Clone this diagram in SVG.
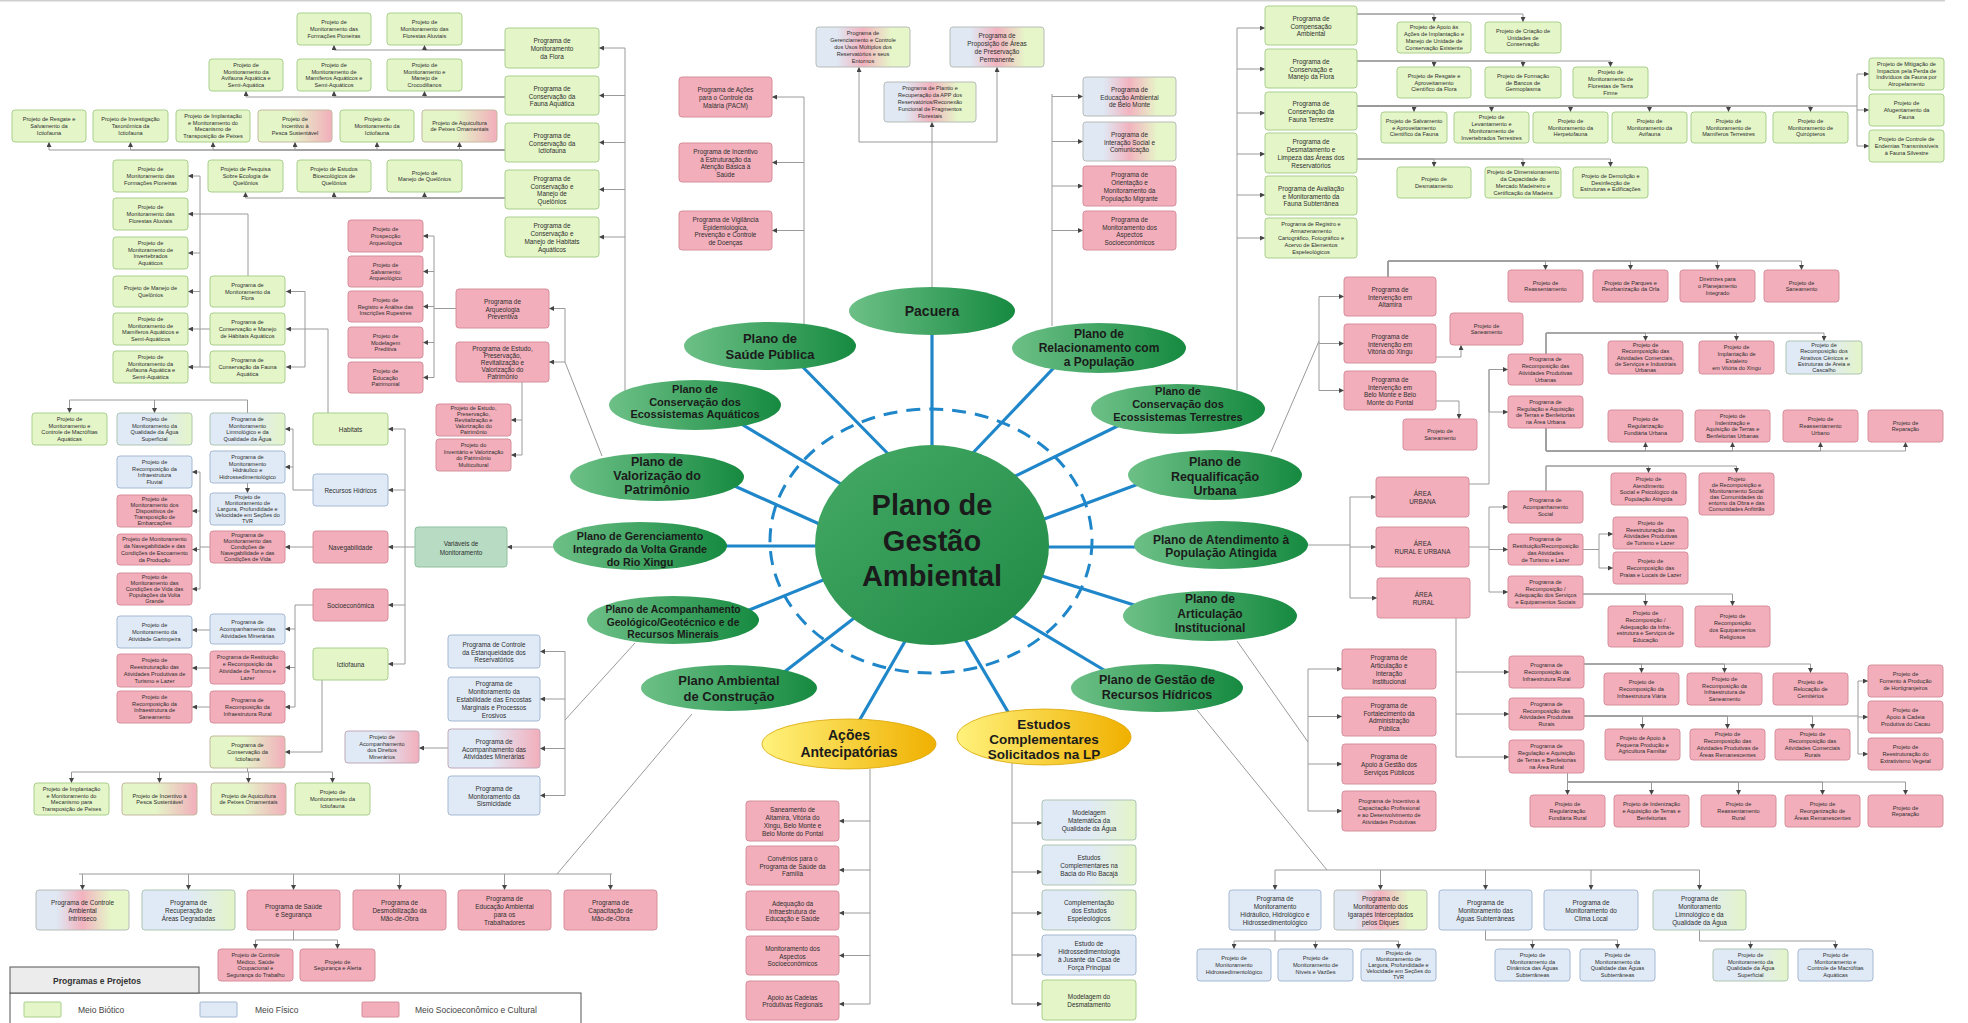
<svg xmlns="http://www.w3.org/2000/svg" width="1968" height="1023" viewBox="0 0 1968 1023">
<defs>
<linearGradient id="gp" x1="0" y1="0" x2="1" y2="0"><stop offset="0" stop-color="#e4f5c8"/><stop offset="0.45" stop-color="#e4f5c8"/><stop offset="1" stop-color="#f2aebb"/></linearGradient>
<linearGradient id="bpg" x1="0" y1="0" x2="1" y2="0"><stop offset="0" stop-color="#dfe8f3"/><stop offset="0.22" stop-color="#dfe8f3"/><stop offset="0.5" stop-color="#f2b3bf"/><stop offset="0.8" stop-color="#e6f6c9"/><stop offset="1" stop-color="#e6f6c9"/></linearGradient>
<linearGradient id="bgr" x1="0" y1="0" x2="1" y2="0"><stop offset="0" stop-color="#e0eaf6"/><stop offset="0.5" stop-color="#e0eaf6"/><stop offset="1" stop-color="#e4f5c8"/></linearGradient>
<linearGradient id="bp" x1="0" y1="0" x2="1" y2="0"><stop offset="0" stop-color="#e0eaf6"/><stop offset="0.45" stop-color="#e0eaf6"/><stop offset="1" stop-color="#f2aebb"/></linearGradient>
<linearGradient id="eg" x1="0" y1="0" x2="1" y2="0"><stop offset="0" stop-color="#6dc087"/><stop offset="1" stop-color="#168a40"/></linearGradient>
<linearGradient id="cg" x1="0" y1="0" x2="1" y2="1"><stop offset="0" stop-color="#45aa66"/><stop offset="1" stop-color="#1f8a45"/></linearGradient>
<linearGradient id="yg" x1="0" y1="0" x2="1" y2="0"><stop offset="0" stop-color="#fff27c"/><stop offset="1" stop-color="#f0b000"/></linearGradient>
<marker id="ar" viewBox="0 0 6 6" refX="6" refY="3" markerWidth="5" markerHeight="5" orient="auto" markerUnits="userSpaceOnUse"><path d="M0,0L6,3L0,6z" fill="#444"/></marker>
<style>
rect{rx:3px;ry:3px;stroke-width:1}
.g{fill:#e4f5c8;stroke:#a9cf8c}
.b{fill:#e0eaf6;stroke:#a4b9d2}
.r{fill:#f2aebb;stroke:#d68e9c}
.gp{fill:url(#gp);stroke:#c5b8a0}
.bpg{fill:url(#bpg);stroke:#b7bcb8}
.bg{fill:url(#bgr);stroke:#adc4b2}
.bp{fill:url(#bp);stroke:#c0a8b8}
.s{font-family:"Liberation Sans",Arial,sans-serif;font-size:5.6px;fill:#2e2e2e;text-anchor:middle;dominant-baseline:central}
.m{font-family:"Liberation Sans",Arial,sans-serif;font-size:6.4px;fill:#2e2e2e;text-anchor:middle;dominant-baseline:central}
.c{fill:none;stroke:#9a9a9a;stroke-width:1}
.a{fill:none;stroke:#9a9a9a;stroke-width:1;marker-end:url(#ar)}
.sp{stroke:#1f87c9;stroke-width:3.2;fill:none}
.el{fill:url(#eg)}
.ye{fill:url(#yg);stroke:#d9a400;stroke-width:0.8}
.e{font-family:"Liberation Sans",Arial,sans-serif;font-weight:bold;fill:#1b1b1b;text-anchor:middle;dominant-baseline:central}
.lg{font-family:"Liberation Sans",Arial,sans-serif;font-size:8.5px;fill:#444}
</style>
</defs>
<rect x="0" y="0" width="1968" height="1023" fill="#ffffff" style="rx:0"/>
<line x1="0" y1="0.8" x2="1945" y2="0.8" stroke="#cfcfcf" stroke-width="1.6"/>

<g id="connectors">
<!-- aquatic top-left -->
<path class="a" d="M505,50H334V45"/><path class="a" d="M505,50H424.5V45"/>
<path class="a" d="M505,97H246V91"/><path class="a" d="M505,97H334V91"/><path class="a" d="M505,97H424.5V91"/>
<path class="a" d="M505,150H49V142"/><path class="a" d="M505,150H130.5V142"/><path class="a" d="M505,150H213V142"/><path class="a" d="M505,150H295V142"/><path class="a" d="M505,150H377V142"/><path class="a" d="M505,150H459.5V142"/>
<path class="a" d="M505,198H245.5V192"/><path class="a" d="M505,198H334V192"/><path class="a" d="M505,198H424.5V192"/>
<path class="c" d="M625,48V392"/>
<path class="a" d="M625,48H599"/><path class="a" d="M625,95.5H599"/><path class="a" d="M625,142.5H599"/><path class="a" d="M625,189.5H599"/><path class="a" d="M625,237H599"/>
<path class="a" d="M248,276V214H188"/><path class="a" d="M200,214V176H188"/>
<path class="c" d="M200,214V367M210,329H200M210,367H200"/>
<path class="a" d="M200,253H188"/><path class="a" d="M200,291.5H188"/><path class="a" d="M200,329H188"/><path class="a" d="M200,367H188"/>
<path class="c" d="M328,413V329H305M305,291.5V367"/>
<path class="a" d="M305,291.5H286"/><path class="a" d="M305,329H286"/><path class="a" d="M305,367H286"/>
<!-- archaeology -->
<path class="c" d="M434,236V377.5M456,308.5H434"/>
<path class="a" d="M434,236H423"/><path class="a" d="M434,271.5H423"/><path class="a" d="M434,306.5H423"/><path class="a" d="M434,342.5H423"/><path class="a" d="M434,377.5H423"/>
<path class="c" d="M602,456L565,362V308.5"/>
<path class="a" d="M565,308.5H549"/><path class="a" d="M565,362H549"/>
<path class="c" d="M522,382V455"/>
<path class="a" d="M522,420H511"/><path class="a" d="M522,455H511"/>
<!-- health -->
<path class="c" d="M804,97V326"/>
<path class="a" d="M804,97H772"/><path class="a" d="M804,162.5H772"/><path class="a" d="M804,230.5H772"/>
<!-- pacuera -->
<path class="a" d="M932,288V122"/>
<path class="c" d="M859,142H997"/>
<path class="a" d="M859,142V67"/><path class="a" d="M997,142V67"/>
<!-- relacionamento -->
<path class="c" d="M1052,94V326"/>
<path class="a" d="M1052,96.5H1083"/><path class="a" d="M1052,141.5H1083"/><path class="a" d="M1052,186H1083"/><path class="a" d="M1052,230.5H1083"/>
<!-- terrestrial -->
<path class="c" d="M1237,28V390"/>
<path class="a" d="M1237,28H1265"/><path class="a" d="M1237,69H1265"/><path class="a" d="M1237,113H1265"/><path class="a" d="M1237,154H1265"/><path class="a" d="M1237,195H1265"/><path class="a" d="M1237,238H1265"/>
<path class="a" d="M1357,14H1434V22"/><path class="a" d="M1357,14H1523V22"/>
<path class="a" d="M1357,61H1434V67"/><path class="a" d="M1357,61H1523V67"/><path class="a" d="M1357,61H1610.5V67"/>
<path class="c" d="M1357,106H1857M1857,74V146"/>
<path class="a" d="M1357,106H1414V112"/><path class="a" d="M1357,106H1491.5V112"/><path class="a" d="M1357,106H1570.5V112"/><path class="a" d="M1357,106H1649.5V112"/><path class="a" d="M1357,106H1728.5V112"/><path class="a" d="M1357,106H1810.5V112"/>
<path class="a" d="M1857,74H1869"/><path class="a" d="M1857,110H1869"/><path class="a" d="M1857,146H1869"/>
<path class="a" d="M1357,159H1434V167"/><path class="a" d="M1357,159H1523V167"/><path class="a" d="M1357,159H1610.5V167"/>
<!-- requalificacao -->
<path class="a" d="M1388,277V261H1545.5V270"/><path class="a" d="M1388,277V261H1630.5V270"/><path class="a" d="M1388,277V261H1717.5V270"/><path class="a" d="M1388,277V261H1801.5V270"/>
<path class="c" d="M1319,296.5V390.5M1271,452L1319,341"/>
<path class="a" d="M1319,296.5H1344"/><path class="a" d="M1319,343.5H1344"/><path class="a" d="M1319,390.5H1344"/>
<path class="a" d="M1436,357H1461V345"/><path class="a" d="M1436,401H1459V419"/>
<!-- atendimento -->
<path class="c" d="M1308,545H1350M1350,497V598"/>
<path class="a" d="M1350,497H1376"/><path class="a" d="M1350,547H1376"/><path class="a" d="M1350,598H1377"/>
<path class="c" d="M1469,484H1489V369.5M1489,369.5V412"/>
<path class="a" d="M1489,369.5H1508"/><path class="a" d="M1489,412H1508"/>
<path class="a" d="M1546,354V333H1645.5V341"/><path class="a" d="M1546,354V333H1736.5V341"/><path class="a" d="M1546,354V333H1824V341"/>
<path class="a" d="M1546,428V451H1645.5V442"/><path class="a" d="M1546,428V451H1732.5V442"/><path class="a" d="M1546,428V451H1820.5V442"/><path class="a" d="M1546,428V451H1905.5V442"/>
<path class="c" d="M1469,547H1489M1489,507V592"/>
<path class="a" d="M1489,507H1508"/><path class="a" d="M1489,549.5H1508"/><path class="a" d="M1489,592H1508"/>
<path class="a" d="M1546,491V466H1648.5V473"/><path class="a" d="M1546,491V466H1736.5V473"/>
<path class="a" d="M1583,549.5H1599V534H1613"/><path class="a" d="M1583,549.5H1599V568H1613"/>
<path class="a" d="M1583,594H1645.5V606"/><path class="a" d="M1583,594H1732.5V606"/>
<path class="c" d="M1456,618V757"/>
<path class="a" d="M1456,672H1509"/><path class="a" d="M1456,714H1509"/><path class="a" d="M1456,757H1509"/>
<path class="a" d="M1584,664H1641.5V673"/><path class="a" d="M1584,664H1724.5V673"/><path class="a" d="M1584,664H1810.5V673"/>
<path class="a" d="M1584,716H1642.5V729"/><path class="a" d="M1584,716H1727.5V729"/><path class="a" d="M1584,716H1812.5V729"/>
<path class="c" d="M1584,716H1858M1858,681V754"/>
<path class="a" d="M1858,681H1868"/><path class="a" d="M1858,717H1868"/><path class="a" d="M1858,754H1868"/>
<path class="a" d="M1567.5,773V795"/><path class="a" d="M1567.5,782H1651.5V795"/><path class="a" d="M1567.5,782H1738.5V795"/><path class="a" d="M1567.5,782H1822.5V795"/><path class="a" d="M1567.5,782H1905.5V795"/>
<!-- articulacao -->
<path class="c" d="M1237,641L1308,742M1308,669V811"/>
<path class="a" d="M1308,669H1342"/><path class="a" d="M1308,716.5H1342"/><path class="a" d="M1308,764H1342"/><path class="a" d="M1308,811H1342"/>
<!-- recursos hidricos -->
<path class="c" d="M1197,710L1327,870M1275,870H1699.5"/>
<path class="a" d="M1275,870V890"/><path class="a" d="M1380.5,870V890"/><path class="a" d="M1485.5,870V890"/><path class="a" d="M1591,870V890"/><path class="a" d="M1699.5,870V890"/>
<path class="c" d="M1275,930V941M1234,941H1398.5"/>
<path class="a" d="M1234,941V949"/><path class="a" d="M1315.5,941V949"/><path class="a" d="M1398.5,941V949"/>
<path class="c" d="M1485.5,930V940H1617.5"/>
<path class="a" d="M1532.5,940V949"/><path class="a" d="M1617.5,940V949"/>
<path class="c" d="M1699.5,930V941H1835.5"/>
<path class="a" d="M1750.5,941V949"/><path class="a" d="M1835.5,941V949"/>
<!-- estudos / acoes -->
<path class="c" d="M1012,763V1004"/>
<path class="a" d="M1012,823H1042"/><path class="a" d="M1012,872H1042"/><path class="a" d="M1012,913H1042"/><path class="a" d="M1012,955H1042"/><path class="a" d="M1012,1004H1042"/>
<path class="c" d="M870,769V1004"/>
<path class="a" d="M870,821H839"/><path class="a" d="M870,870H839"/><path class="a" d="M870,913H839"/><path class="a" d="M870,955.5H839"/><path class="a" d="M870,1004H839"/>
<!-- construcao -->
<path class="c" d="M692,714L557,874M79,874H612"/>
<path class="a" d="M82.5,874V890"/><path class="a" d="M188.5,874V890"/><path class="a" d="M293.5,874V890"/><path class="a" d="M399.5,874V890"/><path class="a" d="M504.5,874V890"/><path class="a" d="M610.5,874V890"/>
<path class="c" d="M293.5,930V940M255.5,940H337.5"/>
<path class="a" d="M255.5,940V949"/><path class="a" d="M337.5,940V949"/>
<!-- geologico -->
<path class="c" d="M635,643L565,720M565,651.5V795.5"/>
<path class="a" d="M565,651.5H540"/><path class="a" d="M565,699H540"/><path class="a" d="M565,748.5H540"/><path class="a" d="M565,795.5H540"/>
<path class="a" d="M448,748H419"/>
<!-- gerenciamento -->
<path class="a" d="M554,547H507"/>
<path class="c" d="M415,547H405M405,429V664"/>
<path class="a" d="M405,429H388"/><path class="a" d="M405,490H388"/><path class="a" d="M405,547H388"/><path class="a" d="M405,605H388"/><path class="a" d="M405,664H388"/>
<path class="c" d="M247.5,413V400H69.5"/>
<path class="a" d="M69.5,400V413"/><path class="a" d="M154.5,400V413"/>
<path class="c" d="M313,490H293V429"/>
<path class="a" d="M293,429H285"/><path class="a" d="M293,467H285"/>
<path class="a" d="M247.5,483V493"/>
<path class="a" d="M313,547H285"/>
<path class="c" d="M210,547H200M200,472V589"/>
<path class="a" d="M200,472H192"/><path class="a" d="M200,511H192"/><path class="a" d="M200,549.5H192"/><path class="a" d="M200,589H192"/>
<path class="c" d="M313,605H295V707"/>
<path class="a" d="M295,629H285"/><path class="a" d="M295,667.5H285"/><path class="a" d="M295,707H285"/>
<path class="a" d="M210,630H192"/><path class="a" d="M210,668H192"/><path class="a" d="M210,707H192"/>
<path class="a" d="M322,680V752H285"/>
<path class="c" d="M247.5,768V772M71.5,772H332.5"/>
<path class="a" d="M71.5,772V783"/><path class="a" d="M159.5,772V783"/><path class="a" d="M248.5,772V783"/><path class="a" d="M332.5,772V783"/>
<!-- spokes -->
<path class="sp" d="M932,300V460"/>
<path class="sp" d="M790,354L900,466"/>
<path class="sp" d="M728,416L856,493"/>
<path class="sp" d="M719,479L835,531"/>
<path class="sp" d="M710,546H835"/>
<path class="sp" d="M737,615L843,572"/>
<path class="sp" d="M770,683L875,602"/>
<path class="sp" d="M919,617L855,728"/>
<path class="sp" d="M952,617L1018,729"/>
<path class="sp" d="M992,603L1114,676"/>
<path class="sp" d="M1023,570L1150,610"/>
<path class="sp" d="M1030,547H1155"/>
<path class="sp" d="M1028,525L1152,479"/>
<path class="sp" d="M1001,483L1134,418"/>
<path class="sp" d="M970,456L1065,356"/>
<ellipse cx="931" cy="541" rx="161" ry="132" fill="none" stroke="#1f87c9" stroke-width="3" stroke-dasharray="14 9"/>
</g>

<!-- ellipses -->
<g id="pga"><ellipse cx="932" cy="545" rx="117" ry="100" fill="url(#cg)"/><text class="e" x="932" y="540" font-size="29"><tspan x="932" y="505">Plano de</tspan><tspan x="932" y="541">Gestão</tspan><tspan x="932" y="576">Ambiental</tspan></text></g>
<g id="e-pacuera"><ellipse class="el" cx="932" cy="311" rx="83" ry="24"/><text class="e" x="932" y="311" font-size="14">Pacuera</text></g>
<g id="e-saude"><ellipse class="el" cx="770" cy="346" rx="86" ry="24"/><text class="e" font-size="13"><tspan x="770" y="338">Plano de</tspan><tspan x="770" y="354">Saúde Pública</tspan></text></g>
<g id="e-aquaticos"><ellipse class="el" cx="695" cy="405" rx="86" ry="25"/><text class="e" font-size="11"><tspan x="695" y="389">Plano de</tspan><tspan x="695" y="401.5">Conservação dos</tspan><tspan x="695" y="414">Ecossistemas Aquáticos</tspan></text></g>
<g id="e-valorizacao"><ellipse class="el" cx="657" cy="477" rx="87" ry="24"/><text class="e" font-size="12.5"><tspan x="657" y="462">Plano de</tspan><tspan x="657" y="476">Valorização do</tspan><tspan x="657" y="490">Patrimônio</tspan></text></g>
<g id="e-gerenciamento"><ellipse class="el" cx="640" cy="546" rx="87" ry="24"/><text class="e" font-size="10.8"><tspan x="640" y="536">Plano de Gerenciamento</tspan><tspan x="640" y="549">Integrado da Volta Grande</tspan><tspan x="640" y="562">do Rio Xingu</tspan></text></g>
<g id="e-geologico"><ellipse class="el" cx="673" cy="620" rx="86" ry="24"/><text class="e" font-size="10.3"><tspan x="673" y="609">Plano de Acompanhamento</tspan><tspan x="673" y="621.5">Geológico/Geotécnico e de</tspan><tspan x="673" y="634">Recursos Minerais</tspan></text></g>
<g id="e-construcao"><ellipse class="el" cx="729" cy="688" rx="88" ry="23"/><text class="e" font-size="13"><tspan x="729" y="680">Plano Ambiental</tspan><tspan x="729" y="696">de Construção</tspan></text></g>
<g id="e-relacionamento"><ellipse class="el" cx="1099" cy="348" rx="87" ry="25"/><text class="e" font-size="12"><tspan x="1099" y="334">Plano de</tspan><tspan x="1099" y="348">Relacionamento com</tspan><tspan x="1099" y="362">a População</tspan></text></g>
<g id="e-terrestres"><ellipse class="el" cx="1178" cy="409" rx="87" ry="25"/><text class="e" font-size="11"><tspan x="1178" y="391">Plano de</tspan><tspan x="1178" y="404">Conservação dos</tspan><tspan x="1178" y="417">Ecossistemas Terrestres</tspan></text></g>
<g id="e-requalificacao"><ellipse class="el" cx="1215" cy="475" rx="87" ry="25"/><text class="e" font-size="12.5"><tspan x="1215" y="462">Plano de</tspan><tspan x="1215" y="477">Requalificação</tspan><tspan x="1215" y="491">Urbana</tspan></text></g>
<g id="e-atendimento"><ellipse class="el" cx="1221" cy="545" rx="87" ry="24"/><text class="e" font-size="12"><tspan x="1221" y="540">Plano de Atendimento à</tspan><tspan x="1221" y="553">População Atingida</tspan></text></g>
<g id="e-articulacao"><ellipse class="el" cx="1210" cy="616" rx="87" ry="25"/><text class="e" font-size="12"><tspan x="1210" y="599">Plano de</tspan><tspan x="1210" y="613.5">Articulação</tspan><tspan x="1210" y="628">Institucional</tspan></text></g>
<g id="e-hidricos"><ellipse class="el" cx="1157" cy="688" rx="86" ry="24"/><text class="e" font-size="12.5"><tspan x="1157" y="680">Plano de Gestão de</tspan><tspan x="1157" y="695">Recursos Hídricos</tspan></text></g>
<g id="e-acoes"><ellipse class="ye" cx="849" cy="744" rx="87" ry="25"/><text class="e" font-size="14"><tspan x="849" y="735">Ações</tspan><tspan x="849" y="752">Antecipatórias</tspan></text></g>
<g id="e-estudos"><ellipse class="ye" cx="1044" cy="737" rx="87" ry="28"/><text class="e" font-size="13.5"><tspan x="1044" y="724">Estudos</tspan><tspan x="1044" y="739">Complementares</tspan><tspan x="1044" y="754">Solicitados na LP</tspan></text></g>

<!-- aquatic top-left nodes -->
<g id="n1"><rect class="g" x="297" y="13" width="74" height="32"/><text class="s" x="334" y="29"><tspan x="334" dy="-6.8">Projeto de</tspan><tspan x="334" dy="6.8">Monitoramento das</tspan><tspan x="334" dy="6.8">Formações Pioneiras</tspan></text></g>
<g id="n2"><rect class="g" x="387" y="13" width="75" height="32"/><text class="s" x="424.5" y="29"><tspan x="424.5" dy="-6.8">Projeto de</tspan><tspan x="424.5" dy="6.8">Monitoramento das</tspan><tspan x="424.5" dy="6.8">Florestas Aluviais</tspan></text></g>
<g id="n3"><rect class="g" x="209" y="59" width="74" height="32"/><text class="s" x="246" y="75"><tspan x="246" dy="-10.2">Projeto de</tspan><tspan x="246" dy="6.8">Monitoramento da</tspan><tspan x="246" dy="6.8">Avifauna Aquática e</tspan><tspan x="246" dy="6.8">Semi-Aquática</tspan></text></g>
<g id="n4"><rect class="g" x="297" y="59" width="74" height="32"/><text class="s" x="334" y="75"><tspan x="334" dy="-10.2">Projeto de</tspan><tspan x="334" dy="6.8">Monitoramento de</tspan><tspan x="334" dy="6.8">Mamíferos Aquáticos e</tspan><tspan x="334" dy="6.8">Semi-Aquáticos</tspan></text></g>
<g id="n5"><rect class="g" x="387" y="59" width="75" height="32"/><text class="s" x="424.5" y="75"><tspan x="424.5" dy="-10.2">Projeto de</tspan><tspan x="424.5" dy="6.8">Monitoramento e</tspan><tspan x="424.5" dy="6.8">Manejo de</tspan><tspan x="424.5" dy="6.8">Crocodilianos</tspan></text></g>
<g id="n6"><rect class="g" x="12" y="110" width="74" height="32"/><text class="s" x="49" y="126"><tspan x="49" dy="-6.8">Projeto de Resgate e</tspan><tspan x="49" dy="6.8">Salvamento da</tspan><tspan x="49" dy="6.8">Ictiofauna</tspan></text></g>
<g id="n7"><rect class="g" x="93" y="110" width="75" height="32"/><text class="s" x="130.5" y="126"><tspan x="130.5" dy="-6.8">Projeto de Investigação</tspan><tspan x="130.5" dy="6.8">Taxonômica da</tspan><tspan x="130.5" dy="6.8">Ictiofauna</tspan></text></g>
<g id="n8"><rect class="g" x="176" y="110" width="74" height="32"/><text class="s" x="213" y="126"><tspan x="213" dy="-10.2">Projeto de Implantação</tspan><tspan x="213" dy="6.8">e Monitoramento do</tspan><tspan x="213" dy="6.8">Mecanismo de</tspan><tspan x="213" dy="6.8">Transposição de Peixes</tspan></text></g>
<g id="n9"><rect class="gp" x="258" y="110" width="74" height="32"/><text class="s" x="295" y="126"><tspan x="295" dy="-6.8">Projeto de</tspan><tspan x="295" dy="6.8">Incentivo à</tspan><tspan x="295" dy="6.8">Pesca Sustentável</tspan></text></g>
<g id="n10"><rect class="g" x="340" y="110" width="74" height="32"/><text class="s" x="377" y="126"><tspan x="377" dy="-6.8">Projeto de</tspan><tspan x="377" dy="6.8">Monitoramento da</tspan><tspan x="377" dy="6.8">Ictiofauna</tspan></text></g>
<g id="n11"><rect class="gp" x="422" y="110" width="75" height="32"/><text class="s" x="459.5" y="126"><tspan x="459.5" dy="-3.4">Projeto de Aquicultura</tspan><tspan x="459.5" dy="6.8">de Peixes Ornamentais</tspan></text></g>
<g id="n12"><rect class="g" x="113" y="160" width="75" height="32"/><text class="s" x="150.5" y="176"><tspan x="150.5" dy="-6.8">Projeto de</tspan><tspan x="150.5" dy="6.8">Monitoramento das</tspan><tspan x="150.5" dy="6.8">Formações Pioneiras</tspan></text></g>
<g id="n13"><rect class="g" x="208" y="160" width="75" height="32"/><text class="s" x="245.5" y="176"><tspan x="245.5" dy="-6.8">Projeto de Pesquisa</tspan><tspan x="245.5" dy="6.8">Sobre Ecologia de</tspan><tspan x="245.5" dy="6.8">Quelônios</tspan></text></g>
<g id="n14"><rect class="g" x="297" y="160" width="74" height="32"/><text class="s" x="334" y="176"><tspan x="334" dy="-6.8">Projeto de Estudos</tspan><tspan x="334" dy="6.8">Bioecológicos de</tspan><tspan x="334" dy="6.8">Quelônios</tspan></text></g>
<g id="n15"><rect class="g" x="387" y="160" width="75" height="32"/><text class="s" x="424.5" y="176"><tspan x="424.5" dy="-3.4">Projeto de</tspan><tspan x="424.5" dy="6.8">Manejo de Quelônios</tspan></text></g>
<g id="n16"><rect class="g" x="113" y="198" width="75" height="32"/><text class="s" x="150.5" y="214"><tspan x="150.5" dy="-6.8">Projeto de</tspan><tspan x="150.5" dy="6.8">Monitoramento das</tspan><tspan x="150.5" dy="6.8">Florestas Aluviais</tspan></text></g>
<g id="n17"><rect class="g" x="113" y="237" width="75" height="32"/><text class="s" x="150.5" y="253"><tspan x="150.5" dy="-10.2">Projeto de</tspan><tspan x="150.5" dy="6.8">Monitoramento de</tspan><tspan x="150.5" dy="6.8">Invertebrados</tspan><tspan x="150.5" dy="6.8">Aquáticos</tspan></text></g>
<g id="n18"><rect class="g" x="113" y="276" width="75" height="31"/><text class="s" x="150.5" y="291.5"><tspan x="150.5" dy="-3.4">Projeto de Manejo de</tspan><tspan x="150.5" dy="6.8">Quelônios</tspan></text></g>
<g id="n19"><rect class="g" x="113" y="313" width="75" height="32"/><text class="s" x="150.5" y="329"><tspan x="150.5" dy="-10.2">Projeto de</tspan><tspan x="150.5" dy="6.8">Monitoramento de</tspan><tspan x="150.5" dy="6.8">Mamíferos Aquáticos e</tspan><tspan x="150.5" dy="6.8">Semi-Aquáticos</tspan></text></g>
<g id="n20"><rect class="g" x="113" y="351" width="75" height="32"/><text class="s" x="150.5" y="367"><tspan x="150.5" dy="-10.2">Projeto de</tspan><tspan x="150.5" dy="6.8">Monitoramento da</tspan><tspan x="150.5" dy="6.8">Avifauna Aquática e</tspan><tspan x="150.5" dy="6.8">Semi-Aquática</tspan></text></g>
<g id="n21"><rect class="g" x="210" y="276" width="75" height="31"/><text class="s" x="247.5" y="291.5"><tspan x="247.5" dy="-6.8">Programa de</tspan><tspan x="247.5" dy="6.8">Monitoramento da</tspan><tspan x="247.5" dy="6.8">Flora</tspan></text></g>
<g id="n22"><rect class="g" x="210" y="313" width="75" height="32"/><text class="s" x="247.5" y="329"><tspan x="247.5" dy="-6.8">Programa de</tspan><tspan x="247.5" dy="6.8">Conservação e Manejo</tspan><tspan x="247.5" dy="6.8">de Hábitats Aquáticos</tspan></text></g>
<g id="n23"><rect class="g" x="210" y="351" width="75" height="32"/><text class="s" x="247.5" y="367"><tspan x="247.5" dy="-6.8">Programa de</tspan><tspan x="247.5" dy="6.8">Conservação da Fauna</tspan><tspan x="247.5" dy="6.8">Aquática</tspan></text></g>
<g id="n24"><rect class="g" x="505" y="28" width="94" height="40"/><text class="m" x="552" y="48"><tspan x="552" dy="-7.8">Programa de</tspan><tspan x="552" dy="7.8">Monitoramento</tspan><tspan x="552" dy="7.8">da Flora</tspan></text></g>
<g id="n25"><rect class="g" x="505" y="76" width="94" height="39"/><text class="m" x="552" y="95.5"><tspan x="552" dy="-7.8">Programa de</tspan><tspan x="552" dy="7.8">Conservação da</tspan><tspan x="552" dy="7.8">Fauna Aquática</tspan></text></g>
<g id="n26"><rect class="g" x="505" y="123" width="94" height="39"/><text class="m" x="552" y="142.5"><tspan x="552" dy="-7.8">Programa de</tspan><tspan x="552" dy="7.8">Conservação da</tspan><tspan x="552" dy="7.8">Ictiofauna</tspan></text></g>
<g id="n27"><rect class="g" x="505" y="170" width="94" height="39"/><text class="m" x="552" y="189.5"><tspan x="552" dy="-11.7">Programa de</tspan><tspan x="552" dy="7.8">Conservação e</tspan><tspan x="552" dy="7.8">Manejo de</tspan><tspan x="552" dy="7.8">Quelônios</tspan></text></g>
<g id="n28"><rect class="g" x="505" y="217" width="94" height="40"/><text class="m" x="552" y="237"><tspan x="552" dy="-11.7">Programa de</tspan><tspan x="552" dy="7.8">Conservação e</tspan><tspan x="552" dy="7.8">Manejo de Habitats</tspan><tspan x="552" dy="7.8">Aquáticos</tspan></text></g>

<!-- archaeology -->
<g id="n29"><rect class="r" x="348" y="220" width="75" height="32"/><text class="s" x="385.5" y="236"><tspan x="385.5" dy="-6.8">Projeto de</tspan><tspan x="385.5" dy="6.8">Prospecção</tspan><tspan x="385.5" dy="6.8">Arqueológica</tspan></text></g>
<g id="n30"><rect class="r" x="348" y="256" width="75" height="31"/><text class="s" x="385.5" y="271.5"><tspan x="385.5" dy="-6.8">Projeto de</tspan><tspan x="385.5" dy="6.8">Salvamento</tspan><tspan x="385.5" dy="6.8">Arqueológico</tspan></text></g>
<g id="n31"><rect class="r" x="348" y="291" width="75" height="31"/><text class="s" x="385.5" y="306.5"><tspan x="385.5" dy="-6.8">Projeto de</tspan><tspan x="385.5" dy="6.8">Registro e Análise das</tspan><tspan x="385.5" dy="6.8">Inscrições Rupestres</tspan></text></g>
<g id="n32"><rect class="r" x="348" y="327" width="75" height="31"/><text class="s" x="385.5" y="342.5"><tspan x="385.5" dy="-6.8">Projeto de</tspan><tspan x="385.5" dy="6.8">Modelagem</tspan><tspan x="385.5" dy="6.8">Preditiva</tspan></text></g>
<g id="n33"><rect class="r" x="348" y="362" width="75" height="31"/><text class="s" x="385.5" y="377.5"><tspan x="385.5" dy="-6.8">Projeto de</tspan><tspan x="385.5" dy="6.8">Educação</tspan><tspan x="385.5" dy="6.8">Patrimonial</tspan></text></g>
<g id="n34"><rect class="r" x="456" y="289" width="93" height="39"/><text class="m" x="502.5" y="308.5"><tspan x="502.5" dy="-7.8">Programa de</tspan><tspan x="502.5" dy="7.8">Arqueologia</tspan><tspan x="502.5" dy="7.8">Preventiva</tspan></text></g>
<g id="n35"><rect class="r" x="456" y="342" width="93" height="40"/><text class="m" x="502.5" y="362"><tspan x="502.5" dy="-14.4">Programa de Estudo,</tspan><tspan x="502.5" dy="7.2">Preservação,</tspan><tspan x="502.5" dy="7.2">Revitalização e</tspan><tspan x="502.5" dy="7.2">Valorização do</tspan><tspan x="502.5" dy="7.2">Patrimônio</tspan></text></g>
<g id="n36"><rect class="r" x="436" y="404" width="75" height="32"/><text class="s" x="473.5" y="420"><tspan x="473.5" dy="-12.4">Projeto de Estudo,</tspan><tspan x="473.5" dy="6.2">Preservação,</tspan><tspan x="473.5" dy="6.2">Revitalização e</tspan><tspan x="473.5" dy="6.2">Valorização do</tspan><tspan x="473.5" dy="6.2">Patrimônio</tspan></text></g>
<g id="n37"><rect class="r" x="436" y="439" width="75" height="32"/><text class="s" x="473.5" y="455"><tspan x="473.5" dy="-10.2">Projeto do</tspan><tspan x="473.5" dy="6.8">Inventário e Valorização</tspan><tspan x="473.5" dy="6.8">do Patrimônio</tspan><tspan x="473.5" dy="6.8">Multicultural</tspan></text></g>

<!-- health -->
<g id="n38"><rect class="r" x="679" y="77" width="93" height="40"/><text class="m" x="725.5" y="97"><tspan x="725.5" dy="-7.8">Programa de Ações</tspan><tspan x="725.5" dy="7.8">para o Controle da</tspan><tspan x="725.5" dy="7.8">Malária (PACM)</tspan></text></g>
<g id="n39"><rect class="r" x="679" y="143" width="93" height="39"/><text class="m" x="725.5" y="162.5"><tspan x="725.5" dy="-11.7">Programa de Incentivo</tspan><tspan x="725.5" dy="7.8">à Estruturação da</tspan><tspan x="725.5" dy="7.8">Atenção Básica à</tspan><tspan x="725.5" dy="7.8">Saúde</tspan></text></g>
<g id="n40"><rect class="r" x="679" y="211" width="93" height="39"/><text class="m" x="725.5" y="230.5"><tspan x="725.5" dy="-11.7">Programa de Vigilância</tspan><tspan x="725.5" dy="7.8">Epidemiológica,</tspan><tspan x="725.5" dy="7.8">Prevenção e Controle</tspan><tspan x="725.5" dy="7.8">de Doenças</tspan></text></g>

<!-- pacuera -->
<g id="n41"><rect class="bpg" x="816" y="27" width="94" height="40"/><text class="s" x="863" y="47"><tspan x="863" dy="-14">Programa de</tspan><tspan x="863" dy="7">Gerenciamento e Controle</tspan><tspan x="863" dy="7">dos Usos Múltiplos dos</tspan><tspan x="863" dy="7">Reservatórios e seus</tspan><tspan x="863" dy="7">Entornos</tspan></text></g>
<g id="n42"><rect class="bpg" x="950" y="27" width="94" height="40"/><text class="m" x="997" y="47"><tspan x="997" dy="-11.7">Programa de</tspan><tspan x="997" dy="7.8">Proposição de Áreas</tspan><tspan x="997" dy="7.8">de Preservação</tspan><tspan x="997" dy="7.8">Permanente</tspan></text></g>
<g id="n43"><rect class="bpg" x="884" y="82" width="92" height="40"/><text class="s" x="930" y="102" font-size="5.2"><tspan x="930" dy="-13.6">Programa de Plantio e</tspan><tspan x="930" dy="6.8">Recuperação da APP dos</tspan><tspan x="930" dy="6.8">Reservatórios/Reconexão</tspan><tspan x="930" dy="6.8">Funcional de Fragmentos</tspan><tspan x="930" dy="6.8">Florestais</tspan></text></g>

<!-- relacionamento -->
<g id="n44"><rect class="bpg" x="1083" y="77" width="93" height="39"/><text class="m" x="1129.5" y="96.5"><tspan x="1129.5" dy="-7.8">Programa de</tspan><tspan x="1129.5" dy="7.8">Educação Ambiental</tspan><tspan x="1129.5" dy="7.8">de Belo Monte</tspan></text></g>
<g id="n45"><rect class="bpg" x="1083" y="122" width="93" height="39"/><text class="m" x="1129.5" y="141.5"><tspan x="1129.5" dy="-7.8">Programa de</tspan><tspan x="1129.5" dy="7.8">Interação Social e</tspan><tspan x="1129.5" dy="7.8">Comunicação</tspan></text></g>
<g id="n46"><rect class="r" x="1083" y="166" width="93" height="40"/><text class="m" x="1129.5" y="186"><tspan x="1129.5" dy="-11.7">Programa de</tspan><tspan x="1129.5" dy="7.8">Orientação e</tspan><tspan x="1129.5" dy="7.8">Monitoramento da</tspan><tspan x="1129.5" dy="7.8">População Migrante</tspan></text></g>
<g id="n47"><rect class="r" x="1083" y="211" width="93" height="39"/><text class="m" x="1129.5" y="230.5"><tspan x="1129.5" dy="-11.7">Programa de</tspan><tspan x="1129.5" dy="7.8">Monitoramento dos</tspan><tspan x="1129.5" dy="7.8">Aspectos</tspan><tspan x="1129.5" dy="7.8">Socioeconômicos</tspan></text></g>

<!-- terrestrial programs -->
<g id="n48"><rect class="g" x="1265" y="6" width="92" height="39"/><text class="m" x="1311" y="25.5"><tspan x="1311" dy="-7.8">Programa de</tspan><tspan x="1311" dy="7.8">Compensação</tspan><tspan x="1311" dy="7.8">Ambiental</tspan></text></g>
<g id="n49"><rect class="g" x="1265" y="49" width="92" height="39"/><text class="m" x="1311" y="68.5"><tspan x="1311" dy="-7.8">Programa de</tspan><tspan x="1311" dy="7.8">Conservação e</tspan><tspan x="1311" dy="7.8">Manejo da Flora</tspan></text></g>
<g id="n50"><rect class="g" x="1265" y="92" width="92" height="38"/><text class="m" x="1311" y="111"><tspan x="1311" dy="-7.8">Programa de</tspan><tspan x="1311" dy="7.8">Conservação da</tspan><tspan x="1311" dy="7.8">Fauna Terrestre</tspan></text></g>
<g id="n51"><rect class="g" x="1265" y="133" width="92" height="40"/><text class="m" x="1311" y="153"><tspan x="1311" dy="-11.7">Programa de</tspan><tspan x="1311" dy="7.8">Desmatamento e</tspan><tspan x="1311" dy="7.8">Limpeza das Áreas dos</tspan><tspan x="1311" dy="7.8">Reservatórios</tspan></text></g>
<g id="n52"><rect class="g" x="1265" y="176" width="92" height="39"/><text class="m" x="1311" y="195.5"><tspan x="1311" dy="-7.8">Programa de Avaliação</tspan><tspan x="1311" dy="7.8">e Monitoramento da</tspan><tspan x="1311" dy="7.8">Fauna Subterrânea</tspan></text></g>
<g id="n53"><rect class="g" x="1265" y="218" width="92" height="40"/><text class="s" x="1311" y="238"><tspan x="1311" dy="-14">Programa de Registro e</tspan><tspan x="1311" dy="7">Armazenamento</tspan><tspan x="1311" dy="7">Cartográfico, Fotográfico e</tspan><tspan x="1311" dy="7">Acervo de Elementos</tspan><tspan x="1311" dy="7">Espeleológicos</tspan></text></g>
<!-- terrestrial projects -->
<g id="n54"><rect class="g" x="1397" y="22" width="74" height="31"/><text class="s" x="1434" y="37.5"><tspan x="1434" dy="-10.2">Projeto de Apoio às</tspan><tspan x="1434" dy="6.8">Ações de Implantação e</tspan><tspan x="1434" dy="6.8">Manejo de Unidade de</tspan><tspan x="1434" dy="6.8">Conservação Existente</tspan></text></g>
<g id="n55"><rect class="g" x="1485" y="22" width="76" height="31"/><text class="s" x="1523" y="37.5"><tspan x="1523" dy="-6.8">Projeto de Criação de</tspan><tspan x="1523" dy="6.8">Unidades de</tspan><tspan x="1523" dy="6.8">Conservação</tspan></text></g>
<g id="n56"><rect class="g" x="1397" y="67" width="74" height="31"/><text class="s" x="1434" y="82.5"><tspan x="1434" dy="-6.8">Projeto de Resgate e</tspan><tspan x="1434" dy="6.8">Aproveitamento</tspan><tspan x="1434" dy="6.8">Científico da Flora</tspan></text></g>
<g id="n57"><rect class="g" x="1485" y="67" width="76" height="31"/><text class="s" x="1523" y="82.5"><tspan x="1523" dy="-6.8">Projeto de Formação</tspan><tspan x="1523" dy="6.8">de Bancos de</tspan><tspan x="1523" dy="6.8">Germoplasma</tspan></text></g>
<g id="n58"><rect class="g" x="1573" y="67" width="75" height="31"/><text class="s" x="1610.5" y="82.5"><tspan x="1610.5" dy="-10.2">Projeto de</tspan><tspan x="1610.5" dy="6.8">Monitoramento de</tspan><tspan x="1610.5" dy="6.8">Florestas de Terra</tspan><tspan x="1610.5" dy="6.8">Firme</tspan></text></g>
<g id="n59"><rect class="g" x="1381" y="112" width="66" height="31"/><text class="s" x="1414" y="127.5"><tspan x="1414" dy="-6.8">Projeto de Salvamento</tspan><tspan x="1414" dy="6.8">e Aproveitamento</tspan><tspan x="1414" dy="6.8">Científico da Fauna</tspan></text></g>
<g id="n60"><rect class="g" x="1454" y="112" width="75" height="31"/><text class="s" x="1491.5" y="127.5"><tspan x="1491.5" dy="-10.2">Projeto de</tspan><tspan x="1491.5" dy="6.8">Levantamento e</tspan><tspan x="1491.5" dy="6.8">Monitoramento de</tspan><tspan x="1491.5" dy="6.8">Invertebrados Terrestres</tspan></text></g>
<g id="n61"><rect class="g" x="1533" y="112" width="75" height="31"/><text class="s" x="1570.5" y="127.5"><tspan x="1570.5" dy="-6.8">Projeto de</tspan><tspan x="1570.5" dy="6.8">Monitoramento da</tspan><tspan x="1570.5" dy="6.8">Herpetofauna</tspan></text></g>
<g id="n62"><rect class="g" x="1612" y="112" width="75" height="31"/><text class="s" x="1649.5" y="127.5"><tspan x="1649.5" dy="-6.8">Projeto de</tspan><tspan x="1649.5" dy="6.8">Monitoramento da</tspan><tspan x="1649.5" dy="6.8">Avifauna</tspan></text></g>
<g id="n63"><rect class="g" x="1691" y="112" width="75" height="31"/><text class="s" x="1728.5" y="127.5"><tspan x="1728.5" dy="-6.8">Projeto de</tspan><tspan x="1728.5" dy="6.8">Monitoramento de</tspan><tspan x="1728.5" dy="6.8">Mamíferos Terrestres</tspan></text></g>
<g id="n64"><rect class="g" x="1773" y="112" width="75" height="31"/><text class="s" x="1810.5" y="127.5"><tspan x="1810.5" dy="-6.8">Projeto de</tspan><tspan x="1810.5" dy="6.8">Monitoramento de</tspan><tspan x="1810.5" dy="6.8">Quirópteros</tspan></text></g>
<g id="n65"><rect class="g" x="1869" y="58" width="75" height="32"/><text class="s" x="1906.5" y="74"><tspan x="1906.5" dy="-10.2">Projeto de Mitigação de</tspan><tspan x="1906.5" dy="6.8">Impactos pela Perda de</tspan><tspan x="1906.5" dy="6.8">Indivíduos da Fauna por</tspan><tspan x="1906.5" dy="6.8">Atropelamento</tspan></text></g>
<g id="n66"><rect class="g" x="1869" y="94" width="75" height="32"/><text class="s" x="1906.5" y="110"><tspan x="1906.5" dy="-6.8">Projeto de</tspan><tspan x="1906.5" dy="6.8">Afugentamento da</tspan><tspan x="1906.5" dy="6.8">Fauna</tspan></text></g>
<g id="n67"><rect class="g" x="1869" y="130" width="75" height="32"/><text class="s" x="1906.5" y="146"><tspan x="1906.5" dy="-6.8">Projeto de Controle de</tspan><tspan x="1906.5" dy="6.8">Endemias Transmissíveis</tspan><tspan x="1906.5" dy="6.8">à Fauna Silvestre</tspan></text></g>
<g id="n68"><rect class="g" x="1397" y="167" width="74" height="31"/><text class="s" x="1434" y="182.5"><tspan x="1434" dy="-3.4">Projeto de</tspan><tspan x="1434" dy="6.8">Desmatamento</tspan></text></g>
<g id="n69"><rect class="g" x="1485" y="167" width="76" height="31"/><text class="s" x="1523" y="182.5"><tspan x="1523" dy="-10.2">Projeto de Dimensionamento</tspan><tspan x="1523" dy="6.8">da Capacidade do</tspan><tspan x="1523" dy="6.8">Mercado Madeireiro e</tspan><tspan x="1523" dy="6.8">Certificação da Madeira</tspan></text></g>
<g id="n70"><rect class="g" x="1573" y="167" width="75" height="31"/><text class="s" x="1610.5" y="182.5"><tspan x="1610.5" dy="-6.8">Projeto de Demolição e</tspan><tspan x="1610.5" dy="6.8">Desinfecção de</tspan><tspan x="1610.5" dy="6.8">Estruturas e Edificações</tspan></text></g>

<!-- requalificacao -->
<g id="n71"><rect class="r" x="1344" y="277" width="92" height="39"/><text class="m" x="1390" y="296.5"><tspan x="1390" dy="-7.8">Programa de</tspan><tspan x="1390" dy="7.8">Intervenção em</tspan><tspan x="1390" dy="7.8">Altamira</tspan></text></g>
<g id="n72"><rect class="r" x="1344" y="324" width="92" height="39"/><text class="m" x="1390" y="343.5"><tspan x="1390" dy="-7.8">Programa de</tspan><tspan x="1390" dy="7.8">Intervenção em</tspan><tspan x="1390" dy="7.8">Vitória do Xingu</tspan></text></g>
<g id="n73"><rect class="r" x="1344" y="371" width="92" height="39"/><text class="m" x="1390" y="390.5"><tspan x="1390" dy="-11.7">Programa de</tspan><tspan x="1390" dy="7.8">Intervenção em</tspan><tspan x="1390" dy="7.8">Belo Monte e Belo</tspan><tspan x="1390" dy="7.8">Monte do Pontal</tspan></text></g>
<g id="n74"><rect class="r" x="1450" y="313" width="73" height="32"/><text class="s" x="1486.5" y="329"><tspan x="1486.5" dy="-3.4">Projeto de</tspan><tspan x="1486.5" dy="6.8">Saneamento</tspan></text></g>
<g id="n75"><rect class="r" x="1403" y="419" width="74" height="31"/><text class="s" x="1440" y="434.5"><tspan x="1440" dy="-3.4">Projeto de</tspan><tspan x="1440" dy="6.8">Saneamento</tspan></text></g>
<g id="n76"><rect class="r" x="1508" y="270" width="75" height="32"/><text class="s" x="1545.5" y="286"><tspan x="1545.5" dy="-3.4">Projeto de</tspan><tspan x="1545.5" dy="6.8">Reassentamento</tspan></text></g>
<g id="n77"><rect class="r" x="1593" y="270" width="75" height="32"/><text class="s" x="1630.5" y="286"><tspan x="1630.5" dy="-3.4">Projeto de Parques e</tspan><tspan x="1630.5" dy="6.8">Reurbanização da Orla</tspan></text></g>
<g id="n78"><rect class="r" x="1680" y="270" width="75" height="32"/><text class="s" x="1717.5" y="286"><tspan x="1717.5" dy="-6.8">Diretrizes para</tspan><tspan x="1717.5" dy="6.8">o Planejamento</tspan><tspan x="1717.5" dy="6.8">Integrado</tspan></text></g>
<g id="n79"><rect class="r" x="1764" y="270" width="75" height="32"/><text class="s" x="1801.5" y="286"><tspan x="1801.5" dy="-3.4">Projeto de</tspan><tspan x="1801.5" dy="6.8">Saneamento</tspan></text></g>

<!-- atendimento -->
<g id="n80"><rect class="r" x="1376" y="477" width="93" height="40"/><text class="m" x="1422.5" y="497"><tspan x="1422.5" dy="-3.9">ÁREA</tspan><tspan x="1422.5" dy="7.8">URBANA</tspan></text></g>
<g id="n81"><rect class="r" x="1376" y="527" width="93" height="40"/><text class="m" x="1422.5" y="547"><tspan x="1422.5" dy="-3.9">ÁREA</tspan><tspan x="1422.5" dy="7.8">RURAL E URBANA</tspan></text></g>
<g id="n82"><rect class="r" x="1377" y="578" width="93" height="40"/><text class="m" x="1423.5" y="598"><tspan x="1423.5" dy="-3.9">ÁREA</tspan><tspan x="1423.5" dy="7.8">RURAL</tspan></text></g>
<g id="n83"><rect class="r" x="1508" y="354" width="75" height="31"/><text class="s" x="1545.5" y="369.5"><tspan x="1545.5" dy="-10.2">Programa de</tspan><tspan x="1545.5" dy="6.8">Recomposição das</tspan><tspan x="1545.5" dy="6.8">Atividades Produtivas</tspan><tspan x="1545.5" dy="6.8">Urbanas</tspan></text></g>
<g id="n84"><rect class="r" x="1508" y="396" width="75" height="32"/><text class="s" x="1545.5" y="412"><tspan x="1545.5" dy="-10.2">Programa de</tspan><tspan x="1545.5" dy="6.8">Regulação e Aquisição</tspan><tspan x="1545.5" dy="6.8">de Terras e Benfeitorias</tspan><tspan x="1545.5" dy="6.8">na Área Urbana</tspan></text></g>
<g id="n85"><rect class="r" x="1608" y="341" width="75" height="33"/><text class="s" x="1645.5" y="357.5"><tspan x="1645.5" dy="-12.4">Projeto de</tspan><tspan x="1645.5" dy="6.2">Recomposição das</tspan><tspan x="1645.5" dy="6.2">Atividades Comerciais,</tspan><tspan x="1645.5" dy="6.2">de Serviços e Industriais</tspan><tspan x="1645.5" dy="6.2">Urbanas</tspan></text></g>
<g id="n86"><rect class="r" x="1699" y="341" width="75" height="33"/><text class="s" x="1736.5" y="357.5"><tspan x="1736.5" dy="-10.2">Projeto de</tspan><tspan x="1736.5" dy="6.8">Implantação de</tspan><tspan x="1736.5" dy="6.8">Estaleiro</tspan><tspan x="1736.5" dy="6.8">em Vitória do Xingu</tspan></text></g>
<g id="n87"><rect class="bg" x="1786" y="341" width="76" height="33"/><text class="s" x="1824" y="357.5"><tspan x="1824" dy="-12.4">Projeto de</tspan><tspan x="1824" dy="6.2">Recomposição dos</tspan><tspan x="1824" dy="6.2">Atrativos Cênicos e</tspan><tspan x="1824" dy="6.2">Estruturas de Areia e</tspan><tspan x="1824" dy="6.2">Cascalho</tspan></text></g>
<g id="n88"><rect class="r" x="1608" y="410" width="75" height="32"/><text class="s" x="1645.5" y="426"><tspan x="1645.5" dy="-6.8">Projeto de</tspan><tspan x="1645.5" dy="6.8">Regularização</tspan><tspan x="1645.5" dy="6.8">Fundiária Urbana</tspan></text></g>
<g id="n89"><rect class="r" x="1695" y="410" width="75" height="32"/><text class="s" x="1732.5" y="426"><tspan x="1732.5" dy="-10.2">Projeto de</tspan><tspan x="1732.5" dy="6.8">Indenização e</tspan><tspan x="1732.5" dy="6.8">Aquisição de Terras e</tspan><tspan x="1732.5" dy="6.8">Benfeitorias Urbanas</tspan></text></g>
<g id="n90"><rect class="r" x="1783" y="410" width="75" height="32"/><text class="s" x="1820.5" y="426"><tspan x="1820.5" dy="-6.8">Projeto de</tspan><tspan x="1820.5" dy="6.8">Reassentamento</tspan><tspan x="1820.5" dy="6.8">Urbano</tspan></text></g>
<g id="n91"><rect class="r" x="1868" y="410" width="75" height="32"/><text class="s" x="1905.5" y="426"><tspan x="1905.5" dy="-3.4">Projeto de</tspan><tspan x="1905.5" dy="6.8">Reparação</tspan></text></g>
<g id="n92"><rect class="r" x="1508" y="491" width="75" height="32"/><text class="s" x="1545.5" y="507"><tspan x="1545.5" dy="-6.8">Programa de</tspan><tspan x="1545.5" dy="6.8">Acompanhamento</tspan><tspan x="1545.5" dy="6.8">Social</tspan></text></g>
<g id="n93"><rect class="r" x="1508" y="534" width="75" height="31"/><text class="s" x="1545.5" y="549.5"><tspan x="1545.5" dy="-10.2">Programa de</tspan><tspan x="1545.5" dy="6.8">Restituição/Recomposição</tspan><tspan x="1545.5" dy="6.8">das Atividades</tspan><tspan x="1545.5" dy="6.8">de Turismo e Lazer</tspan></text></g>
<g id="n94"><rect class="r" x="1508" y="576" width="75" height="32"/><text class="s" x="1545.5" y="592"><tspan x="1545.5" dy="-10.2">Programa de</tspan><tspan x="1545.5" dy="6.8">Recomposição /</tspan><tspan x="1545.5" dy="6.8">Adequação dos Serviços</tspan><tspan x="1545.5" dy="6.8">e Equipamentos Sociais</tspan></text></g>
<g id="n95"><rect class="r" x="1611" y="473" width="75" height="32"/><text class="s" x="1648.5" y="489"><tspan x="1648.5" dy="-10.2">Projeto de</tspan><tspan x="1648.5" dy="6.8">Atendimento</tspan><tspan x="1648.5" dy="6.8">Social e Psicológico da</tspan><tspan x="1648.5" dy="6.8">População Atingida</tspan></text></g>
<g id="n96"><rect class="r" x="1699" y="473" width="75" height="42"/><text class="s" x="1736.5" y="494"><tspan x="1736.5" dy="-15">Projeto</tspan><tspan x="1736.5" dy="6">de Recomposição e</tspan><tspan x="1736.5" dy="6">Monitoramento Social</tspan><tspan x="1736.5" dy="6">das Comunidades do</tspan><tspan x="1736.5" dy="6">entorno da Obra e das</tspan><tspan x="1736.5" dy="6">Comunidades Anfitriãs</tspan></text></g>
<g id="n97"><rect class="r" x="1613" y="517" width="75" height="32"/><text class="s" x="1650.5" y="533"><tspan x="1650.5" dy="-10.2">Projeto de</tspan><tspan x="1650.5" dy="6.8">Reestruturação das</tspan><tspan x="1650.5" dy="6.8">Atividades Produtivas</tspan><tspan x="1650.5" dy="6.8">de Turismo e Lazer</tspan></text></g>
<g id="n98"><rect class="r" x="1613" y="552" width="75" height="32"/><text class="s" x="1650.5" y="568"><tspan x="1650.5" dy="-6.8">Projeto de</tspan><tspan x="1650.5" dy="6.8">Recomposição das</tspan><tspan x="1650.5" dy="6.8">Praias e Locais de Lazer</tspan></text></g>
<g id="n99"><rect class="r" x="1608" y="606" width="75" height="41"/><text class="s" x="1645.5" y="626.5"><tspan x="1645.5" dy="-13.6">Projeto de</tspan><tspan x="1645.5" dy="6.8">Recomposição /</tspan><tspan x="1645.5" dy="6.8">Adequação da Infra-</tspan><tspan x="1645.5" dy="6.8">estrutura e Serviços de</tspan><tspan x="1645.5" dy="6.8">Educação</tspan></text></g>
<g id="n100"><rect class="r" x="1695" y="606" width="75" height="41"/><text class="s" x="1732.5" y="626.5"><tspan x="1732.5" dy="-10.2">Projeto de</tspan><tspan x="1732.5" dy="6.8">Recomposição</tspan><tspan x="1732.5" dy="6.8">dos Equipamentos</tspan><tspan x="1732.5" dy="6.8">Religiosos</tspan></text></g>
<g id="n101"><rect class="r" x="1509" y="656" width="75" height="32"/><text class="s" x="1546.5" y="672"><tspan x="1546.5" dy="-6.8">Programa de</tspan><tspan x="1546.5" dy="6.8">Recomposição da</tspan><tspan x="1546.5" dy="6.8">Infraestrutura Rural</tspan></text></g>
<g id="n102"><rect class="r" x="1509" y="698" width="75" height="32"/><text class="s" x="1546.5" y="714"><tspan x="1546.5" dy="-10.2">Programa de</tspan><tspan x="1546.5" dy="6.8">Recomposição das</tspan><tspan x="1546.5" dy="6.8">Atividades Produtivas</tspan><tspan x="1546.5" dy="6.8">Rurais</tspan></text></g>
<g id="n103"><rect class="r" x="1509" y="740" width="75" height="33"/><text class="s" x="1546.5" y="756.5"><tspan x="1546.5" dy="-10.2">Programa de</tspan><tspan x="1546.5" dy="6.8">Regulação e Aquisição</tspan><tspan x="1546.5" dy="6.8">de Terras e Benfeitorias</tspan><tspan x="1546.5" dy="6.8">na Área Rural</tspan></text></g>
<g id="n104"><rect class="r" x="1604" y="673" width="75" height="32"/><text class="s" x="1641.5" y="689"><tspan x="1641.5" dy="-6.8">Projeto de</tspan><tspan x="1641.5" dy="6.8">Recomposição da</tspan><tspan x="1641.5" dy="6.8">Infraestrutura Viária</tspan></text></g>
<g id="n105"><rect class="r" x="1687" y="673" width="75" height="32"/><text class="s" x="1724.5" y="689"><tspan x="1724.5" dy="-10.2">Projeto de</tspan><tspan x="1724.5" dy="6.8">Recomposição da</tspan><tspan x="1724.5" dy="6.8">Infraestrutura de</tspan><tspan x="1724.5" dy="6.8">Saneamento</tspan></text></g>
<g id="n106"><rect class="r" x="1773" y="673" width="75" height="32"/><text class="s" x="1810.5" y="689"><tspan x="1810.5" dy="-6.8">Projeto de</tspan><tspan x="1810.5" dy="6.8">Relocação de</tspan><tspan x="1810.5" dy="6.8">Cemitérios</tspan></text></g>
<g id="n107"><rect class="r" x="1605" y="729" width="75" height="31"/><text class="s" x="1642.5" y="744.5"><tspan x="1642.5" dy="-6.8">Projeto de Apoio à</tspan><tspan x="1642.5" dy="6.8">Pequena Produção e</tspan><tspan x="1642.5" dy="6.8">Agricultura Familiar</tspan></text></g>
<g id="n108"><rect class="r" x="1690" y="729" width="75" height="31"/><text class="s" x="1727.5" y="744.5"><tspan x="1727.5" dy="-10.2">Projeto de</tspan><tspan x="1727.5" dy="6.8">Recomposição das</tspan><tspan x="1727.5" dy="6.8">Atividades Produtivas de</tspan><tspan x="1727.5" dy="6.8">Áreas Remanescentes</tspan></text></g>
<g id="n109"><rect class="r" x="1775" y="729" width="75" height="31"/><text class="s" x="1812.5" y="744.5"><tspan x="1812.5" dy="-10.2">Projeto de</tspan><tspan x="1812.5" dy="6.8">Recomposição das</tspan><tspan x="1812.5" dy="6.8">Atividades Comerciais</tspan><tspan x="1812.5" dy="6.8">Rurais</tspan></text></g>
<g id="n110"><rect class="r" x="1868" y="665" width="75" height="32"/><text class="s" x="1905.5" y="681"><tspan x="1905.5" dy="-6.8">Projeto de</tspan><tspan x="1905.5" dy="6.8">Fomento à Produção</tspan><tspan x="1905.5" dy="6.8">de Hortigranjeiros</tspan></text></g>
<g id="n111"><rect class="r" x="1868" y="701" width="75" height="32"/><text class="s" x="1905.5" y="717"><tspan x="1905.5" dy="-6.8">Projeto de</tspan><tspan x="1905.5" dy="6.8">Apoio à Cadeia</tspan><tspan x="1905.5" dy="6.8">Produtiva do Cacau</tspan></text></g>
<g id="n112"><rect class="r" x="1868" y="738" width="75" height="32"/><text class="s" x="1905.5" y="754"><tspan x="1905.5" dy="-6.8">Projeto de</tspan><tspan x="1905.5" dy="6.8">Reestruturação do</tspan><tspan x="1905.5" dy="6.8">Extrativismo Vegetal</tspan></text></g>
<g id="n113"><rect class="r" x="1530" y="795" width="75" height="32"/><text class="s" x="1567.5" y="811"><tspan x="1567.5" dy="-6.8">Projeto de</tspan><tspan x="1567.5" dy="6.8">Regularização</tspan><tspan x="1567.5" dy="6.8">Fundiária Rural</tspan></text></g>
<g id="n114"><rect class="r" x="1614" y="795" width="75" height="32"/><text class="s" x="1651.5" y="811"><tspan x="1651.5" dy="-6.8">Projeto de Indenização</tspan><tspan x="1651.5" dy="6.8">e Aquisição de Terras e</tspan><tspan x="1651.5" dy="6.8">Benfeitorias</tspan></text></g>
<g id="n115"><rect class="r" x="1701" y="795" width="75" height="32"/><text class="s" x="1738.5" y="811"><tspan x="1738.5" dy="-6.8">Projeto de</tspan><tspan x="1738.5" dy="6.8">Reassentamento</tspan><tspan x="1738.5" dy="6.8">Rural</tspan></text></g>
<g id="n116"><rect class="r" x="1785" y="795" width="75" height="32"/><text class="s" x="1822.5" y="811"><tspan x="1822.5" dy="-6.8">Projeto de</tspan><tspan x="1822.5" dy="6.8">Reorganização de</tspan><tspan x="1822.5" dy="6.8">Áreas Remanescentes</tspan></text></g>
<g id="n117"><rect class="r" x="1868" y="795" width="75" height="32"/><text class="s" x="1905.5" y="811"><tspan x="1905.5" dy="-3.4">Projeto de</tspan><tspan x="1905.5" dy="6.8">Reparação</tspan></text></g>

<!-- articulacao -->
<g id="n118"><rect class="r" x="1342" y="649" width="94" height="40"/><text class="m" x="1389" y="669"><tspan x="1389" dy="-11.7">Programa de</tspan><tspan x="1389" dy="7.8">Articulação e</tspan><tspan x="1389" dy="7.8">Interação</tspan><tspan x="1389" dy="7.8">Institucional</tspan></text></g>
<g id="n119"><rect class="r" x="1342" y="697" width="94" height="39"/><text class="m" x="1389" y="716.5"><tspan x="1389" dy="-11.7">Programa de</tspan><tspan x="1389" dy="7.8">Fortalecimento da</tspan><tspan x="1389" dy="7.8">Administração</tspan><tspan x="1389" dy="7.8">Pública</tspan></text></g>
<g id="n120"><rect class="r" x="1342" y="744" width="94" height="40"/><text class="m" x="1389" y="764"><tspan x="1389" dy="-7.8">Programa de</tspan><tspan x="1389" dy="7.8">Apoio à Gestão dos</tspan><tspan x="1389" dy="7.8">Serviços Públicos</tspan></text></g>
<g id="n121"><rect class="r" x="1342" y="791" width="94" height="40"/><text class="s" x="1389" y="811"><tspan x="1389" dy="-10.5">Programa de Incentivo à</tspan><tspan x="1389" dy="7">Capacitação Profissional</tspan><tspan x="1389" dy="7">e ao Desenvolvimento de</tspan><tspan x="1389" dy="7">Atividades Produtivas</tspan></text></g>

<!-- recursos hidricos -->
<g id="n122"><rect class="b" x="1229" y="890" width="92" height="40"/><text class="m" x="1275" y="910"><tspan x="1275" dy="-11.7">Programa de</tspan><tspan x="1275" dy="7.8">Monitoramento</tspan><tspan x="1275" dy="7.8">Hidráulico, Hidrológico e</tspan><tspan x="1275" dy="7.8">Hidrossedimentológico</tspan></text></g>
<g id="n123"><rect class="bpg" x="1334" y="890" width="93" height="40"/><text class="m" x="1380.5" y="910"><tspan x="1380.5" dy="-11.7">Programa de</tspan><tspan x="1380.5" dy="7.8">Monitoramento dos</tspan><tspan x="1380.5" dy="7.8">Igarapés Interceptados</tspan><tspan x="1380.5" dy="7.8">pelos Diques</tspan></text></g>
<g id="n124"><rect class="b" x="1439" y="890" width="93" height="40"/><text class="m" x="1485.5" y="910"><tspan x="1485.5" dy="-7.8">Programa de</tspan><tspan x="1485.5" dy="7.8">Monitoramento das</tspan><tspan x="1485.5" dy="7.8">Águas Subterrâneas</tspan></text></g>
<g id="n125"><rect class="b" x="1544" y="890" width="94" height="40"/><text class="m" x="1591" y="910"><tspan x="1591" dy="-7.8">Programa de</tspan><tspan x="1591" dy="7.8">Monitoramento do</tspan><tspan x="1591" dy="7.8">Clima Local</tspan></text></g>
<g id="n126"><rect class="bg" x="1653" y="890" width="93" height="40"/><text class="m" x="1699.5" y="910"><tspan x="1699.5" dy="-11.7">Programa de</tspan><tspan x="1699.5" dy="7.8">Monitoramento</tspan><tspan x="1699.5" dy="7.8">Limnológico e da</tspan><tspan x="1699.5" dy="7.8">Qualidade da Água</tspan></text></g>
<g id="n127"><rect class="b" x="1197" y="949" width="74" height="32"/><text class="s" x="1234" y="965"><tspan x="1234" dy="-6.8">Projeto de</tspan><tspan x="1234" dy="6.8">Monitoramento</tspan><tspan x="1234" dy="6.8">Hidrossedimentológico</tspan></text></g>
<g id="n128"><rect class="b" x="1278" y="949" width="75" height="32"/><text class="s" x="1315.5" y="965"><tspan x="1315.5" dy="-6.8">Projeto de</tspan><tspan x="1315.5" dy="6.8">Monitoramento de</tspan><tspan x="1315.5" dy="6.8">Níveis e Vazões</tspan></text></g>
<g id="n129"><rect class="b" x="1361" y="949" width="75" height="32"/><text class="s" x="1398.5" y="965"><tspan x="1398.5" dy="-12.4">Projeto de</tspan><tspan x="1398.5" dy="6.2">Monitoramento de</tspan><tspan x="1398.5" dy="6.2">Largura, Profundidade e</tspan><tspan x="1398.5" dy="6.2">Velocidade em Seções do</tspan><tspan x="1398.5" dy="6.2">TVR</tspan></text></g>
<g id="n130"><rect class="b" x="1495" y="949" width="75" height="32"/><text class="s" x="1532.5" y="965"><tspan x="1532.5" dy="-10.2">Projeto de</tspan><tspan x="1532.5" dy="6.8">Monitoramento da</tspan><tspan x="1532.5" dy="6.8">Dinâmica das Águas</tspan><tspan x="1532.5" dy="6.8">Subterrâneas</tspan></text></g>
<g id="n131"><rect class="b" x="1580" y="949" width="75" height="32"/><text class="s" x="1617.5" y="965"><tspan x="1617.5" dy="-10.2">Projeto de</tspan><tspan x="1617.5" dy="6.8">Monitoramento da</tspan><tspan x="1617.5" dy="6.8">Qualidade das Águas</tspan><tspan x="1617.5" dy="6.8">Subterrâneas</tspan></text></g>
<g id="n132"><rect class="bg" x="1713" y="949" width="75" height="32"/><text class="s" x="1750.5" y="965"><tspan x="1750.5" dy="-10.2">Projeto de</tspan><tspan x="1750.5" dy="6.8">Monitoramento da</tspan><tspan x="1750.5" dy="6.8">Qualidade da Água</tspan><tspan x="1750.5" dy="6.8">Superficial</tspan></text></g>
<g id="n133"><rect class="b" x="1798" y="949" width="75" height="32"/><text class="s" x="1835.5" y="965"><tspan x="1835.5" dy="-10.2">Projeto de</tspan><tspan x="1835.5" dy="6.8">Monitoramento e</tspan><tspan x="1835.5" dy="6.8">Controle de Macrófitas</tspan><tspan x="1835.5" dy="6.8">Aquáticas</tspan></text></g>

<!-- estudos complementares -->
<g id="n134"><rect class="bg" x="1042" y="800" width="94" height="40"/><text class="m" x="1089" y="820"><tspan x="1089" dy="-7.8">Modelagem</tspan><tspan x="1089" dy="7.8">Matemática da</tspan><tspan x="1089" dy="7.8">Qualidade da Água</tspan></text></g>
<g id="n135"><rect class="bg" x="1042" y="845" width="94" height="40"/><text class="m" x="1089" y="865"><tspan x="1089" dy="-7.8">Estudos</tspan><tspan x="1089" dy="7.8">Complementares na</tspan><tspan x="1089" dy="7.8">Bacia do Rio Bacajá</tspan></text></g>
<g id="n136"><rect class="bg" x="1042" y="890" width="94" height="40"/><text class="m" x="1089" y="910"><tspan x="1089" dy="-7.8">Complementação</tspan><tspan x="1089" dy="7.8">dos Estudos</tspan><tspan x="1089" dy="7.8">Espeleológicos</tspan></text></g>
<g id="n137"><rect class="b" x="1042" y="935" width="94" height="40"/><text class="m" x="1089" y="955"><tspan x="1089" dy="-11.7">Estudo de</tspan><tspan x="1089" dy="7.8">Hidrossedimentologia</tspan><tspan x="1089" dy="7.8">à Jusante da Casa de</tspan><tspan x="1089" dy="7.8">Força Principal</tspan></text></g>
<g id="n138"><rect class="g" x="1042" y="980" width="94" height="40"/><text class="m" x="1089" y="1000"><tspan x="1089" dy="-3.9">Modelagem do</tspan><tspan x="1089" dy="7.8">Desmatamento</tspan></text></g>

<!-- acoes antecipatorias -->
<g id="n139"><rect class="r" x="746" y="801" width="93" height="40"/><text class="m" x="792.5" y="821"><tspan x="792.5" dy="-11.7">Saneamento de</tspan><tspan x="792.5" dy="7.8">Altamira, Vitória do</tspan><tspan x="792.5" dy="7.8">Xingu, Belo Monte e</tspan><tspan x="792.5" dy="7.8">Belo Monte do Pontal</tspan></text></g>
<g id="n140"><rect class="r" x="746" y="846" width="93" height="39"/><text class="m" x="792.5" y="865.5"><tspan x="792.5" dy="-7.8">Convênios para o</tspan><tspan x="792.5" dy="7.8">Programa de Saúde da</tspan><tspan x="792.5" dy="7.8">Família</tspan></text></g>
<g id="n141"><rect class="r" x="746" y="891" width="93" height="39"/><text class="m" x="792.5" y="910.5"><tspan x="792.5" dy="-7.8">Adequação da</tspan><tspan x="792.5" dy="7.8">Infraestrutura de</tspan><tspan x="792.5" dy="7.8">Educação e Saúde</tspan></text></g>
<g id="n142"><rect class="r" x="746" y="936" width="93" height="39"/><text class="m" x="792.5" y="955.5"><tspan x="792.5" dy="-7.8">Monitoramento dos</tspan><tspan x="792.5" dy="7.8">Aspectos</tspan><tspan x="792.5" dy="7.8">Socioeconômicos</tspan></text></g>
<g id="n143"><rect class="r" x="746" y="981" width="93" height="39"/><text class="m" x="792.5" y="1000.5"><tspan x="792.5" dy="-3.9">Apoio às Cadeias</tspan><tspan x="792.5" dy="7.8">Produtivas Regionais</tspan></text></g>

<!-- construcao -->
<g id="n144"><rect class="bpg" x="36" y="890" width="93" height="40"/><text class="m" x="82.5" y="910"><tspan x="82.5" dy="-7.8">Programa de Controle</tspan><tspan x="82.5" dy="7.8">Ambiental</tspan><tspan x="82.5" dy="7.8">Intrínseco</tspan></text></g>
<g id="n145"><rect class="bg" x="142" y="890" width="93" height="40"/><text class="m" x="188.5" y="910"><tspan x="188.5" dy="-7.8">Programa de</tspan><tspan x="188.5" dy="7.8">Recuperação de</tspan><tspan x="188.5" dy="7.8">Áreas Degradadas</tspan></text></g>
<g id="n146"><rect class="r" x="247" y="890" width="93" height="40"/><text class="m" x="293.5" y="910"><tspan x="293.5" dy="-3.9">Programa de Saúde</tspan><tspan x="293.5" dy="7.8">e Segurança</tspan></text></g>
<g id="n147"><rect class="r" x="353" y="890" width="93" height="40"/><text class="m" x="399.5" y="910"><tspan x="399.5" dy="-7.8">Programa de</tspan><tspan x="399.5" dy="7.8">Desmobilização da</tspan><tspan x="399.5" dy="7.8">Mão-de-Obra</tspan></text></g>
<g id="n148"><rect class="r" x="458" y="890" width="93" height="40"/><text class="m" x="504.5" y="910"><tspan x="504.5" dy="-11.7">Programa de</tspan><tspan x="504.5" dy="7.8">Educação Ambiental</tspan><tspan x="504.5" dy="7.8">para os</tspan><tspan x="504.5" dy="7.8">Trabalhadores</tspan></text></g>
<g id="n149"><rect class="r" x="564" y="890" width="93" height="40"/><text class="m" x="610.5" y="910"><tspan x="610.5" dy="-7.8">Programa de</tspan><tspan x="610.5" dy="7.8">Capacitação de</tspan><tspan x="610.5" dy="7.8">Mão-de-Obra</tspan></text></g>
<g id="n150"><rect class="r" x="218" y="949" width="75" height="32"/><text class="s" x="255.5" y="965"><tspan x="255.5" dy="-10.2">Projeto de Controle</tspan><tspan x="255.5" dy="6.8">Médico, Saúde</tspan><tspan x="255.5" dy="6.8">Ocupacional e</tspan><tspan x="255.5" dy="6.8">Segurança do Trabalho</tspan></text></g>
<g id="n151"><rect class="r" x="300" y="949" width="75" height="32"/><text class="s" x="337.5" y="965"><tspan x="337.5" dy="-3.4">Projeto de</tspan><tspan x="337.5" dy="6.8">Segurança e Alerta</tspan></text></g>

<!-- geologico -->
<g id="n152"><rect class="b" x="448" y="635" width="92" height="33"/><text class="m" x="494" y="651.5"><tspan x="494" dy="-7.8">Programa de Controle</tspan><tspan x="494" dy="7.8">da Estanqueidade dos</tspan><tspan x="494" dy="7.8">Reservatórios</tspan></text></g>
<g id="n153"><rect class="b" x="448" y="677" width="92" height="44"/><text class="m" x="494" y="699"><tspan x="494" dy="-15.6">Programa de</tspan><tspan x="494" dy="7.8">Monitoramento da</tspan><tspan x="494" dy="7.8">Estabilidade das Encostas</tspan><tspan x="494" dy="7.8">Marginais e Processos</tspan><tspan x="494" dy="7.8">Erosivos</tspan></text></g>
<g id="n154"><rect class="bp" x="448" y="729" width="92" height="39"/><text class="m" x="494" y="748.5"><tspan x="494" dy="-7.8">Programa de</tspan><tspan x="494" dy="7.8">Acompanhamento das</tspan><tspan x="494" dy="7.8">Atividades Minerárias</tspan></text></g>
<g id="n155"><rect class="b" x="448" y="776" width="92" height="39"/><text class="m" x="494" y="795.5"><tspan x="494" dy="-7.8">Programa de</tspan><tspan x="494" dy="7.8">Monitoramento da</tspan><tspan x="494" dy="7.8">Sismicidade</tspan></text></g>
<g id="n156"><rect class="bp" x="345" y="731" width="74" height="32"/><text class="s" x="382" y="747"><tspan x="382" dy="-10.2">Projeto de</tspan><tspan x="382" dy="6.8">Acompanhamento</tspan><tspan x="382" dy="6.8">dos Direitos</tspan><tspan x="382" dy="6.8">Minerários</tspan></text></g>

<!-- gerenciamento -->
<g id="n157"><rect x="415" y="527" width="92" height="40" fill="#b8dcc3" stroke="#90c09f"/><text class="m" x="461" y="547" font-size="7.6"><tspan x="461" dy="-4.5">Variáveis de</tspan><tspan x="461" dy="9">Monitoramento</tspan></text></g>
<g id="n158"><rect class="g" x="313" y="413" width="75" height="32"/><text class="m" x="350.5" y="429">Habitats</text></g>
<g id="n159"><rect class="b" x="313" y="474" width="75" height="32"/><text class="m" x="350.5" y="490">Recursos Hídricos</text></g>
<g id="n160"><rect class="r" x="313" y="531" width="75" height="32"/><text class="m" x="350.5" y="547">Navegabilidade</text></g>
<g id="n161"><rect class="r" x="313" y="589" width="75" height="32"/><text class="m" x="350.5" y="605">Socioeconômica</text></g>
<g id="n162"><rect class="g" x="313" y="648" width="75" height="32"/><text class="m" x="350.5" y="664">Ictiofauna</text></g>
<g id="n163"><rect class="bg" x="210" y="413" width="75" height="32"/><text class="s" x="247.5" y="429"><tspan x="247.5" dy="-10.2">Programa de</tspan><tspan x="247.5" dy="6.8">Monitoramento</tspan><tspan x="247.5" dy="6.8">Limnológico e da</tspan><tspan x="247.5" dy="6.8">Qualidade da Água</tspan></text></g>
<g id="n164"><rect class="b" x="210" y="451" width="75" height="32"/><text class="s" x="247.5" y="467"><tspan x="247.5" dy="-10.2">Programa de</tspan><tspan x="247.5" dy="6.8">Monitoramento</tspan><tspan x="247.5" dy="6.8">Hidráulico e</tspan><tspan x="247.5" dy="6.8">Hidrossedimentológico</tspan></text></g>
<g id="n165"><rect class="b" x="210" y="493" width="75" height="32"/><text class="s" x="247.5" y="509"><tspan x="247.5" dy="-12.4">Projeto de</tspan><tspan x="247.5" dy="6.2">Monitoramento de</tspan><tspan x="247.5" dy="6.2">Largura, Profundidade e</tspan><tspan x="247.5" dy="6.2">Velocidade em Seções do</tspan><tspan x="247.5" dy="6.2">TVR</tspan></text></g>
<g id="n166"><rect class="r" x="210" y="531" width="75" height="32"/><text class="s" x="247.5" y="547"><tspan x="247.5" dy="-12.4">Programa de</tspan><tspan x="247.5" dy="6.2">Monitoramento das</tspan><tspan x="247.5" dy="6.2">Condições de</tspan><tspan x="247.5" dy="6.2">Navegabilidade e das</tspan><tspan x="247.5" dy="6.2">Condições de Vida</tspan></text></g>
<g id="n167"><rect class="b" x="210" y="614" width="75" height="30"/><text class="s" x="247.5" y="629"><tspan x="247.5" dy="-6.8">Programa de</tspan><tspan x="247.5" dy="6.8">Acompanhamento das</tspan><tspan x="247.5" dy="6.8">Atividades Minerárias</tspan></text></g>
<g id="n168"><rect class="r" x="210" y="651" width="75" height="33"/><text class="s" x="247.5" y="667.5"><tspan x="247.5" dy="-10.2">Programa de Restituição</tspan><tspan x="247.5" dy="6.8">e Recomposição da</tspan><tspan x="247.5" dy="6.8">Atividade de Turismo e</tspan><tspan x="247.5" dy="6.8">Lazer</tspan></text></g>
<g id="n169"><rect class="r" x="210" y="691" width="75" height="32"/><text class="s" x="247.5" y="707"><tspan x="247.5" dy="-6.8">Programa de</tspan><tspan x="247.5" dy="6.8">Recomposição da</tspan><tspan x="247.5" dy="6.8">Infraestrutura Rural</tspan></text></g>
<g id="n170"><rect class="gp" x="210" y="736" width="75" height="32"/><text class="s" x="247.5" y="752"><tspan x="247.5" dy="-6.8">Programa de</tspan><tspan x="247.5" dy="6.8">Conservação da</tspan><tspan x="247.5" dy="6.8">Ictiofauna</tspan></text></g>
<g id="n171"><rect class="g" x="32" y="413" width="75" height="32"/><text class="s" x="69.5" y="429"><tspan x="69.5" dy="-10.2">Projeto de</tspan><tspan x="69.5" dy="6.8">Monitoramento e</tspan><tspan x="69.5" dy="6.8">Controle de Macrófitas</tspan><tspan x="69.5" dy="6.8">Aquáticas</tspan></text></g>
<g id="n172"><rect class="bg" x="117" y="413" width="75" height="32"/><text class="s" x="154.5" y="429"><tspan x="154.5" dy="-10.2">Projeto de</tspan><tspan x="154.5" dy="6.8">Monitoramento da</tspan><tspan x="154.5" dy="6.8">Qualidade da Água</tspan><tspan x="154.5" dy="6.8">Superficial</tspan></text></g>
<g id="n173"><rect class="b" x="117" y="456" width="75" height="32"/><text class="s" x="154.5" y="472"><tspan x="154.5" dy="-10.2">Projeto de</tspan><tspan x="154.5" dy="6.8">Recomposição da</tspan><tspan x="154.5" dy="6.8">Infraestrutura</tspan><tspan x="154.5" dy="6.8">Fluvial</tspan></text></g>
<g id="n174"><rect class="r" x="117" y="495" width="75" height="32"/><text class="s" x="154.5" y="511"><tspan x="154.5" dy="-12.4">Projeto de</tspan><tspan x="154.5" dy="6.2">Monitoramento dos</tspan><tspan x="154.5" dy="6.2">Dispositivos de</tspan><tspan x="154.5" dy="6.2">Transposição de</tspan><tspan x="154.5" dy="6.2">Embarcações</tspan></text></g>
<g id="n175"><rect class="r" x="117" y="534" width="75" height="31"/><text class="s" x="154.5" y="549.5"><tspan x="154.5" dy="-10.2">Projeto de Monitoramento</tspan><tspan x="154.5" dy="6.8">da Navegabilidade e das</tspan><tspan x="154.5" dy="6.8">Condições de Escoamento</tspan><tspan x="154.5" dy="6.8">da Produção</tspan></text></g>
<g id="n176"><rect class="r" x="117" y="573" width="75" height="32"/><text class="s" x="154.5" y="589"><tspan x="154.5" dy="-12.4">Projeto de</tspan><tspan x="154.5" dy="6.2">Monitoramento das</tspan><tspan x="154.5" dy="6.2">Condições de Vida das</tspan><tspan x="154.5" dy="6.2">Populações da Volta</tspan><tspan x="154.5" dy="6.2">Grande</tspan></text></g>
<g id="n177"><rect class="b" x="117" y="616" width="75" height="32"/><text class="s" x="154.5" y="632"><tspan x="154.5" dy="-6.8">Projeto de</tspan><tspan x="154.5" dy="6.8">Monitoramento da</tspan><tspan x="154.5" dy="6.8">Atividade Garimpeira</tspan></text></g>
<g id="n178"><rect class="r" x="117" y="654" width="75" height="33"/><text class="s" x="154.5" y="670.5"><tspan x="154.5" dy="-10.2">Projeto de</tspan><tspan x="154.5" dy="6.8">Reestruturação das</tspan><tspan x="154.5" dy="6.8">Atividades Produtivas de</tspan><tspan x="154.5" dy="6.8">Turismo e Lazer</tspan></text></g>
<g id="n179"><rect class="r" x="117" y="691" width="75" height="32"/><text class="s" x="154.5" y="707"><tspan x="154.5" dy="-10.2">Projeto de</tspan><tspan x="154.5" dy="6.8">Recomposição da</tspan><tspan x="154.5" dy="6.8">Infraestrutura de</tspan><tspan x="154.5" dy="6.8">Saneamento</tspan></text></g>
<g id="n180"><rect class="g" x="34" y="783" width="75" height="32"/><text class="s" x="71.5" y="799"><tspan x="71.5" dy="-10.2">Projeto de Implantação</tspan><tspan x="71.5" dy="6.8">e Monitoramento do</tspan><tspan x="71.5" dy="6.8">Mecanismo para</tspan><tspan x="71.5" dy="6.8">Transposição de Peixes</tspan></text></g>
<g id="n181"><rect class="gp" x="122" y="783" width="75" height="32"/><text class="s" x="159.5" y="799"><tspan x="159.5" dy="-3.4">Projeto de Incentivo à</tspan><tspan x="159.5" dy="6.8">Pesca Sustentável</tspan></text></g>
<g id="n182"><rect class="gp" x="211" y="783" width="75" height="32"/><text class="s" x="248.5" y="799"><tspan x="248.5" dy="-3.4">Projeto de Aquicultura</tspan><tspan x="248.5" dy="6.8">de Peixes Ornamentais</tspan></text></g>
<g id="n183"><rect class="g" x="295" y="783" width="75" height="32"/><text class="s" x="332.5" y="799"><tspan x="332.5" dy="-6.8">Projeto de</tspan><tspan x="332.5" dy="6.8">Monitoramento da</tspan><tspan x="332.5" dy="6.8">Ictiofauna</tspan></text></g>

<!-- legend -->
<g id="legend">
<rect x="10" y="993" width="571" height="40" fill="#ffffff" stroke="#555" stroke-width="1.2" style="rx:0;ry:0"/>
<rect x="10" y="967" width="189" height="26" fill="#ececec" stroke="#555" stroke-width="1.2" style="rx:0;ry:0"/>
<text x="97" y="981" font-family="Liberation Sans, Arial, sans-serif" font-size="8.5" font-weight="bold" fill="#333" text-anchor="middle" dominant-baseline="central">Programas e Projetos</text>
<rect class="g" x="24" y="1002" width="37" height="15" style="rx:1;ry:1"/>
<text class="lg" x="78" y="1013">Meio Biótico</text>
<rect class="b" x="200" y="1002" width="37" height="15" style="rx:1;ry:1"/>
<text class="lg" x="255" y="1013">Meio Físico</text>
<rect class="r" x="362" y="1002" width="37" height="15" style="rx:1;ry:1"/>
<text class="lg" x="415" y="1013">Meio Socioeconômico e Cultural</text>
</g>
</svg>
